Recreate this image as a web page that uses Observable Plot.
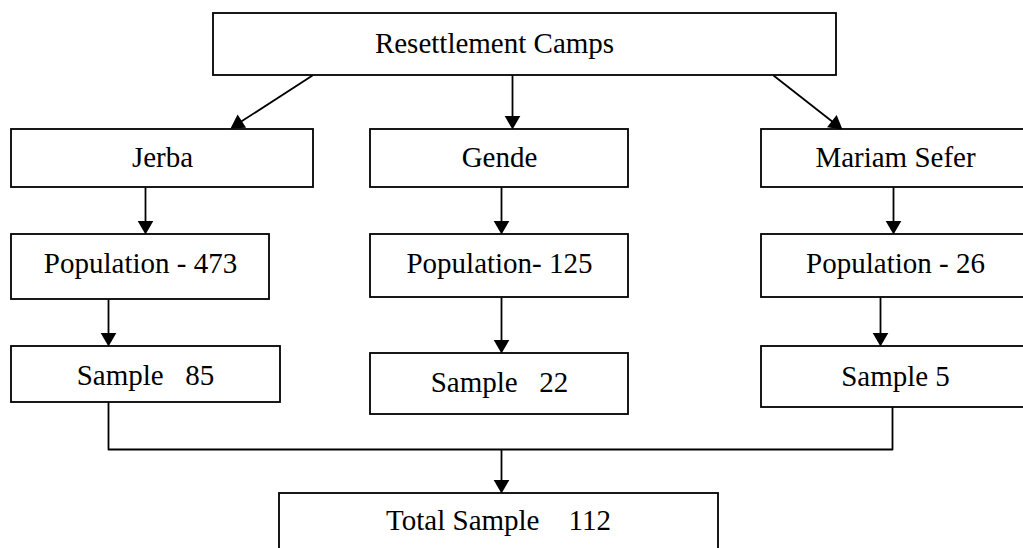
<!DOCTYPE html>
<html>
<head>
<meta charset="utf-8">
<script src="https://cdn.jsdelivr.net/npm/d3@7"></script>
<script src="https://cdn.jsdelivr.net/npm/@observablehq/plot@0.6"></script>
<style>
html, body { margin: 0; padding: 0; background: #fff; overflow: hidden; }
#chart svg { display: block; }
#chart svg text { font-family: "Liberation Serif", "Times New Roman", Times, serif !important; }
</style>
</head>
<body>
<div id="chart"></div>
<script>
// Node labels (flowchart content)
const labels = ["Resettlement Camps", "Jerba", "Gende", "Mariam Sefer",
  "Population - 473", "Population- 125", "Population - 26",
  "Sample \u00a0 85", "Sample \u00a0 22", "Sample 5", "Total Sample \u00a0 \u00a0112"];
// Layout of boxes (pixel space)
const boxX1 = [213, 11, 370, 761, 11, 370, 761, 11, 370, 761, 279];
const boxX2 = [836, 313, 628, 1030, 269, 628, 1030, 280, 628, 1030, 718];
const boxY1 = [13, 129, 129, 129, 234, 234, 234, 346, 353, 346, 493];
const boxY2 = [75, 187, 187, 187, 299, 297, 297, 402, 414, 407, 560];
const textX = [494, 162, 499, 895, 140, 499, 895, 145, 499, 895, 498];
const textY = [43, 157, 157, 157, 263, 263, 263, 375, 382, 376, 520];
// Arrows: start and tip
const arrX1 = [312, 512, 773, 145, 501, 893, 108, 501, 880, 501];
const arrY1 = [75, 75, 75, 187, 187, 187, 299, 297, 297, 449];
const arrX2 = [230, 512, 842, 145, 501, 893, 108, 501, 880, 501];
const arrY2 = [128, 129, 129, 234, 234, 234, 346, 353, 346, 493];
// Merge connector path
const connX = [108, 108, 892, 892];
const connY = [402, 449, 449, 407];

const boxes = labels.map((label, i) => ({label, x1: boxX1[i], x2: boxX2[i], y1: boxY1[i], y2: boxY2[i], tx: textX[i], ty: textY[i]}));
const R = 5.8;
const tipDist = 2 * Math.sqrt(Math.PI * R * R / (3 * Math.sqrt(3))); // centroid-to-tip distance
const arrows = arrX1.map((x1, i) => {
  const x2 = arrX2[i], y2 = arrY2[i], y1 = arrY1[i];
  const dx = x2 - x1, dy = y2 - y1, L = Math.hypot(dx, dy);
  const ux = dx / L, uy = dy / L;
  return {x1, y1, x2: x2 - ux * tipDist, y2: y2 - uy * tipDist, cx: x2 - ux * tipDist, cy: y2 - uy * tipDist,
          rot: Math.atan2(dx, -dy) * 180 / Math.PI};
});
const conn = connX.map((x, i) => ({x, y: connY[i]}));

const plot = Plot.plot({
  width: 1023,
  height: 548,
  margin: 0,
  x: {domain: [0, 1023], axis: null},
  y: {domain: [0, 548], range: [0, 548], axis: null},
  style: {fontFamily: "'Liberation Serif', 'Times New Roman', serif", background: "#fff"},
  marks: [
    Plot.line(conn, {x: "x", y: "y", stroke: "#000", strokeWidth: 1.8}),
    Plot.link(arrows, {x1: "x1", y1: "y1", x2: "x2", y2: "y2", stroke: "#000", strokeWidth: 1.8}),
    Plot.dot(arrows, {x: "cx", y: "cy", r: R, symbol: "triangle", fill: "#000", stroke: "none", rotate: "rot"}),
    Plot.rect(boxes, {x1: "x1", x2: "x2", y1: "y1", y2: "y2", fill: "#fff", stroke: "#000", strokeWidth: 1.8}),
    Plot.text(boxes, {x: "tx", y: "ty", text: "label", fontSize: 29, fill: "#000", lineAnchor: "middle",
      fontFamily: "'Liberation Serif', 'Times New Roman', serif"})
  ]
});
document.getElementById("chart").appendChild(plot);
</script>
</body>
</html>
